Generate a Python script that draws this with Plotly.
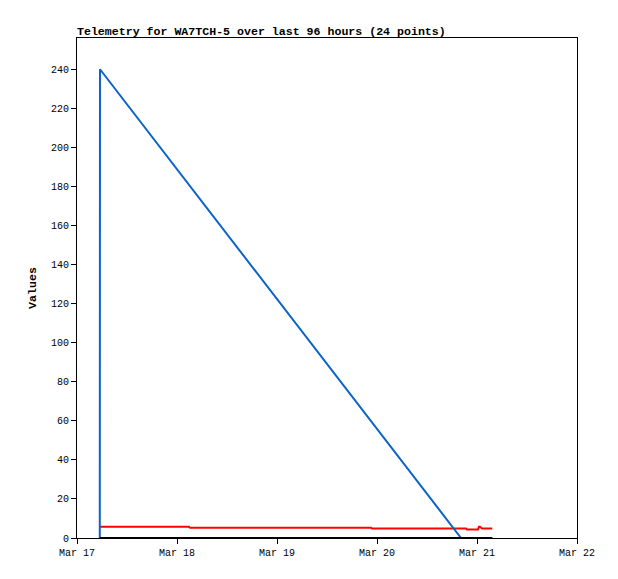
import plotly.graph_objects as go

# telemetry timestamps (24 packets)
times = [
    "2024-03-17 05:28", "2024-03-17 05:31",
    "2024-03-18 02:53", "2024-03-18 03:07",
    "2024-03-19 22:34", "2024-03-19 22:48",
    "2024-03-20 20:10", "2024-03-20 21:22", "2024-03-20 21:36",
    "2024-03-20 22:48", "2024-03-20 23:17",
    "2024-03-21 00:00", "2024-03-21 00:14", "2024-03-21 00:29",
    "2024-03-21 00:43", "2024-03-21 01:12", "2024-03-21 01:26",
    "2024-03-21 01:55", "2024-03-21 02:24", "2024-03-21 02:53",
    "2024-03-21 03:06", "2024-03-21 03:22", "2024-03-21 03:30",
    "2024-03-21 03:40",
]

ch_blue = [0, 240, None, None, None, None, 0, 0, 0, 0, 0, 0,
           0, 0, 0, 0, 0, 0, 0, 0, 0, 0, 0, 0]
ch_red = [5.8, 5.8, 5.8, 5.3, 5.3, 4.9, 4.9, 4.9, 4.4, 4.4, 4.4, 4.4,
          4.4, 5.8, 5.8, 4.9, 4.9, 4.9, 4.9, 4.9, 4.9, 4.9, 4.9, 4.9]
ch_black = [0] * 24

mono = "Liberation Mono, DejaVu Sans Mono, monospace"

fig = go.Figure()
fig.add_trace(go.Scatter(x=times, y=ch_red, mode="lines", connectgaps=True,
                         line=dict(color="#ff0000", width=2)))
fig.add_trace(go.Scatter(x=times, y=ch_blue, mode="lines", connectgaps=True,
                         line=dict(color="#0a64c8", width=2)))
fig.add_trace(go.Scatter(x=times, y=ch_black, mode="lines",
                         line=dict(color="#000000", width=2)))

# page body adds an 8px margin, so the figure is a bit smaller than the window
fig.update_layout(
    width=610, height=571,
    margin=dict(l=69, r=41, t=30, b=41),
    paper_bgcolor="white", plot_bgcolor="white",
    showlegend=False,
    font=dict(family=mono, size=10, color="black"),
    title=dict(text="<b>Telemetry for WA7TCH-5 over last 96 hours (24 points)</b>",
               x=69/610, xanchor="left", y=1-23/571, yanchor="middle",
               font=dict(family=mono, size=11.6, color="black")),
)
fig.update_xaxes(
    type="date", range=["2024-03-17", "2024-03-22"],
    dtick=86400000, tickformat="%b %d",
    showgrid=False, zeroline=False,
    showline=True, linecolor="black", linewidth=1, mirror=True,
    ticks="outside", ticklen=5, tickcolor="black",
)
fig.update_yaxes(
    range=[0, 256], dtick=20,
    showgrid=False, zeroline=False,
    showline=True, linecolor="black", linewidth=1, mirror=True,
    ticks="outside", ticklen=5, tickcolor="black",
    title=dict(text="<b>Values</b>", font=dict(family=mono, size=11.6), standoff=11),
)

fig.write_html("out.html")
